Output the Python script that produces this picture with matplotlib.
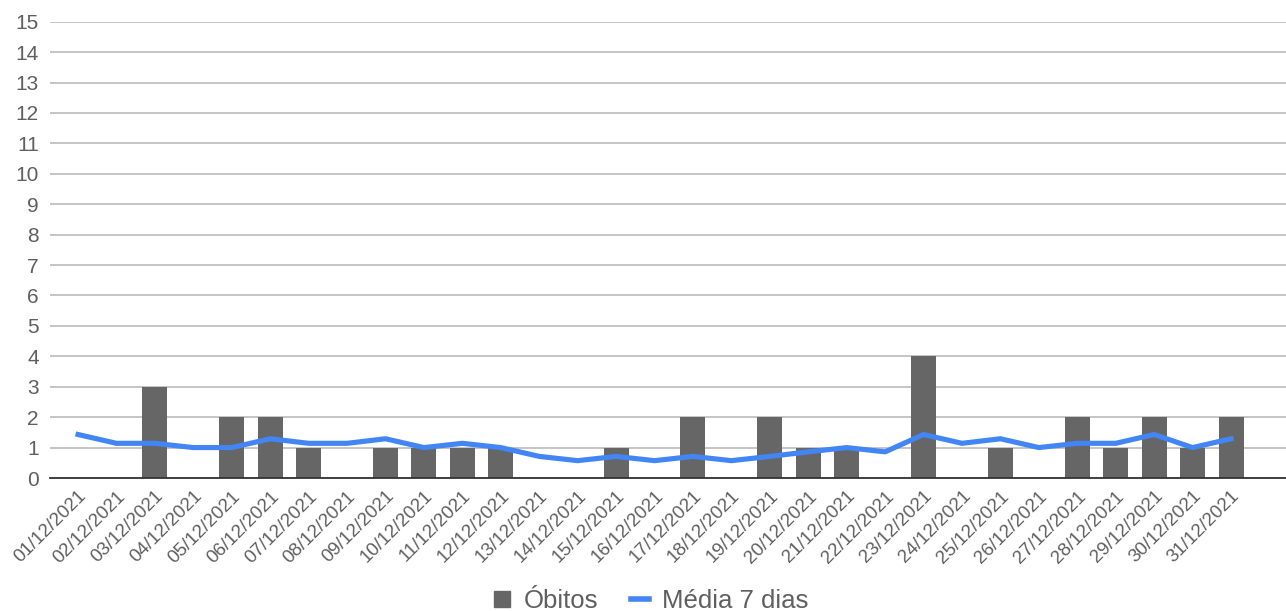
import matplotlib
matplotlib.use("Agg")
import matplotlib.pyplot as plt
from matplotlib.lines import Line2D
import numpy as np

dates = [f"{d:02d}/12/2021" for d in range(1, 32)]
obitos = [0, 0, 3, 0, 2, 2, 1, 0, 1, 1, 1, 1, 0, 0, 1, 0,
          2, 0, 2, 1, 1, 0, 4, 0, 1, 0, 2, 1, 2, 1, 2]
media_7 = [1.43, 1.14, 1.14, 1.00, 1.00, 1.29, 1.14, 1.14, 1.29, 1.00,
           1.14, 1.00, 0.71, 0.57, 0.71, 0.57, 0.71, 0.57, 0.71, 0.86,
           1.00, 0.86, 1.43, 1.14, 1.29, 1.00, 1.14, 1.14, 1.43, 1.00, 1.29]

BAR_COLOR = "#666666"
LINE_COLOR = "#4285f4"
TEXT_COLOR = "#5f5f5f"

plt.rcParams["font.family"] = ["Liberation Sans", "DejaVu Sans"]

fig = plt.figure(figsize=(12.86, 6.11), dpi=100)
ax = fig.add_axes([50 / 1286, 1 - 478 / 611, 1 - 50 / 1286, (478 - 21.7) / 611])

x = np.arange(len(dates))
ax.bar(x, obitos, width=0.65, color=BAR_COLOR, zorder=2)
ax.plot(x, media_7, color=LINE_COLOR, lw=3.7, zorder=3, solid_joinstyle="round")

ax.set_xlim(-0.73, 31.43)
ax.set_ylim(0, 15)
ax.set_yticks(range(0, 16))
ax.grid(True, axis="y", color="#c0c0c0", lw=1.3, zorder=0)
ax.set_axisbelow(True)
for side in ["top", "right", "left"]:
    ax.spines[side].set_visible(False)
ax.spines["bottom"].set_color("#333333")
ax.spines["bottom"].set_linewidth(1.3)
ax.spines["bottom"].set_zorder(4)

ax.set_xticks(x)
ax.set_xticklabels(dates, rotation=45, ha="right", rotation_mode="anchor",
                   fontsize=13.5, color=TEXT_COLOR)
ax.tick_params(axis="x", length=0, pad=7)
ax.tick_params(axis="y", length=0, pad=8, labelsize=15, labelcolor=TEXT_COLOR)

handles = [
    Line2D([], [], marker="s", ls="none", color=BAR_COLOR, markersize=11),
    Line2D([], [], color=LINE_COLOR, lw=4),
]
fig.legend(handles, ["Óbitos", "Média 7 dias"], loc="center",
           bbox_to_anchor=(0.506, 1 - 601 / 611), ncol=2, frameon=False,
           fontsize=18.5, labelcolor=TEXT_COLOR, handlelength=0.7,
           handletextpad=0.5, columnspacing=1.3, borderpad=0)

fig.savefig("out.png", dpi=100)
